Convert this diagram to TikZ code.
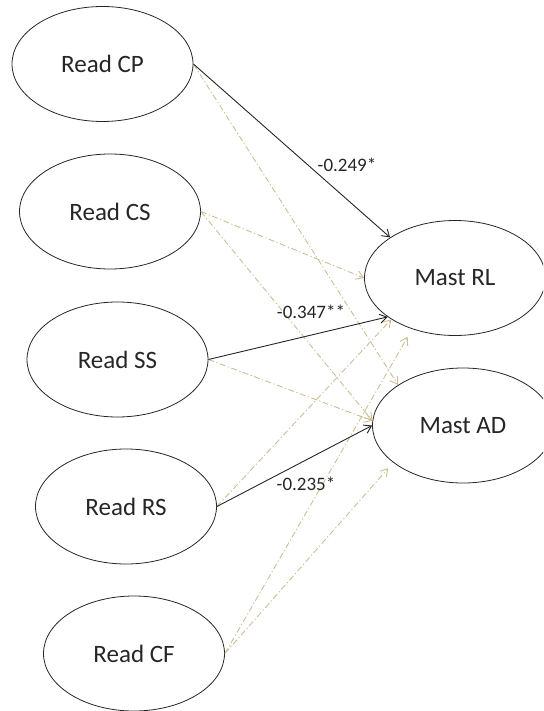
\documentclass[tikz,border=0pt]{standalone}
\usepackage{fontspec}
\setmainfont{Carlito}
\usetikzlibrary{shapes.geometric,arrows.meta}
\definecolor{pathtan}{RGB}{204,190,148}
\definecolor{ink}{RGB}{38,38,38}
\begin{document}
\begin{tikzpicture}[x=1pt,y=-1pt,
  construct/.style={ellipse,draw=ink,line width=0.8pt,minimum width=181pt,
    minimum height=115pt,inner sep=0pt,text=ink,font=\fontsize{25}{30}\selectfont},
  coef/.style={text=ink,font=\fontsize{19}{23}\selectfont,inner sep=0pt},
  sig/.style={draw=ink,line width=0.9pt,-{Straight Barb[length=7pt,width=9pt]}},
  nonsig/.style={draw=pathtan,line width=0.9pt,
    dash pattern=on 6pt off 2.5pt on 1.2pt off 2.5pt,
    -{Straight Barb[length=7pt,width=9pt]}}]
\clip (0,0) rectangle (543,711);

% reading constructs
\node[construct] (cp) at (102.5,64)  {Read CP};
\node[construct] (cs) at (110,211.5) {Read CS};
\node[construct] (ss) at (117.5,359.5) {Read SS};
\node[construct] (rs) at (126,506.5) {Read RS};
\node[construct] (cf) at (134,653.5) {Read CF};

% mastery outcomes
\node[construct] (rl) at (455,278)   {Mast RL};
\node[construct] (ad) at (463,425.5) {Mast AD};

% non-significant paths
\draw[nonsig] (cp.east) -- (ad.148);
\draw[nonsig] (cs.east) -- (rl.west);
\draw[nonsig] (cs.east) -- (ad.177);
\draw[nonsig] (ss.east) -- (ad.177);
\draw[nonsig] (rs.east) -- (rl.213);
\draw[nonsig,shorten >=9pt] (cf.east) -- (rl.230);
\draw[nonsig,shorten >=7.5pt] (cf.east) -- (ad.208);

% significant paths
\draw[sig] (cp.east) -- (rl.148);
\draw[sig] (ss.east) -- (rl.210);
\draw[sig] (rs.east) -- (ad.west);

% path coefficients
\node[coef] (b1) at (347,165) {-0.249*};
\node[coef] (b2) at (311,312) {-0.347**};
\node[coef] (b3) at (306,484) {-0.235*};
\end{tikzpicture}
\end{document}
